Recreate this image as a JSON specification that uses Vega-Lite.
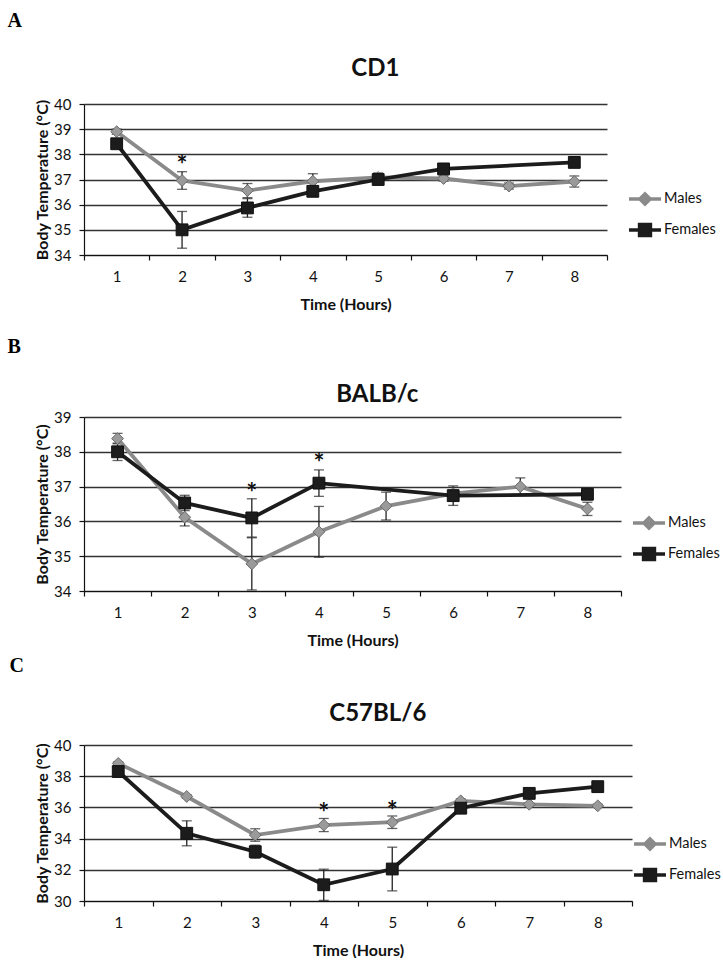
{
  "$schema": "https://vega.github.io/schema/vega-lite/v6.json",
  "padding": {"left": 7, "top": 11, "right": 0, "bottom": 0},
  "background": "white",
  "datasets": {
    "temps": [
      {"panel": "CD1", "sex": "Males", "hour": 1, "temp": 38.9, "err": 0.1},
      {"panel": "CD1", "sex": "Males", "hour": 2, "temp": 36.96, "err": 0.35},
      {"panel": "CD1", "sex": "Males", "hour": 3, "temp": 36.56, "err": 0.28},
      {"panel": "CD1", "sex": "Males", "hour": 4, "temp": 36.93, "err": 0.3},
      {"panel": "CD1", "sex": "Males", "hour": 5, "temp": 37.08, "err": 0.18},
      {"panel": "CD1", "sex": "Males", "hour": 6, "temp": 37.04, "err": 0.1},
      {"panel": "CD1", "sex": "Males", "hour": 7, "temp": 36.74, "err": 0.12},
      {"panel": "CD1", "sex": "Males", "hour": 8, "temp": 36.92, "err": 0.22},
      {"panel": "CD1", "sex": "Females", "hour": 1, "temp": 38.42, "err": 0.15},
      {"panel": "CD1", "sex": "Females", "hour": 2, "temp": 35.0, "err": 0.73},
      {"panel": "CD1", "sex": "Females", "hour": 3, "temp": 35.87, "err": 0.37},
      {"panel": "CD1", "sex": "Females", "hour": 4, "temp": 36.53, "err": 0.12},
      {"panel": "CD1", "sex": "Females", "hour": 5, "temp": 37.0, "err": 0.08},
      {"panel": "CD1", "sex": "Females", "hour": 6, "temp": 37.42, "err": 0.12},
      {"panel": "CD1", "sex": "Females", "hour": 8, "temp": 37.68, "err": 0.1},
      {"panel": "BALB/c", "sex": "Males", "hour": 1, "temp": 38.38, "err": 0.15},
      {"panel": "BALB/c", "sex": "Males", "hour": 2, "temp": 36.12, "err": 0.25},
      {"panel": "BALB/c", "sex": "Males", "hour": 3, "temp": 34.78, "err": 0.75},
      {"panel": "BALB/c", "sex": "Males", "hour": 4, "temp": 35.7, "err": 0.73},
      {"panel": "BALB/c", "sex": "Males", "hour": 5, "temp": 36.44, "err": 0.4},
      {"panel": "BALB/c", "sex": "Males", "hour": 6, "temp": 36.8, "err": 0.1},
      {"panel": "BALB/c", "sex": "Males", "hour": 7, "temp": 37.0, "err": 0.25},
      {"panel": "BALB/c", "sex": "Males", "hour": 8, "temp": 36.36, "err": 0.19},
      {"panel": "BALB/c", "sex": "Females", "hour": 1, "temp": 38.0, "err": 0.25},
      {"panel": "BALB/c", "sex": "Females", "hour": 2, "temp": 36.53, "err": 0.22},
      {"panel": "BALB/c", "sex": "Females", "hour": 3, "temp": 36.1, "err": 0.55},
      {"panel": "BALB/c", "sex": "Females", "hour": 4, "temp": 37.1, "err": 0.38},
      {"panel": "BALB/c", "sex": "Females", "hour": 6, "temp": 36.74, "err": 0.28},
      {"panel": "BALB/c", "sex": "Females", "hour": 8, "temp": 36.78, "err": 0.15},
      {"panel": "C57BL/6", "sex": "Males", "hour": 1, "temp": 38.82, "err": 0.1},
      {"panel": "C57BL/6", "sex": "Males", "hour": 2, "temp": 36.7, "err": 0.1},
      {"panel": "C57BL/6", "sex": "Males", "hour": 3, "temp": 34.23, "err": 0.4},
      {"panel": "C57BL/6", "sex": "Males", "hour": 4, "temp": 34.87, "err": 0.42},
      {"panel": "C57BL/6", "sex": "Males", "hour": 5, "temp": 35.05, "err": 0.4},
      {"panel": "C57BL/6", "sex": "Males", "hour": 6, "temp": 36.42, "err": 0.12},
      {"panel": "C57BL/6", "sex": "Males", "hour": 7, "temp": 36.2, "err": 0.1},
      {"panel": "C57BL/6", "sex": "Males", "hour": 8, "temp": 36.1, "err": 0.1},
      {"panel": "C57BL/6", "sex": "Females", "hour": 1, "temp": 38.3, "err": 0.2},
      {"panel": "C57BL/6", "sex": "Females", "hour": 2, "temp": 34.34, "err": 0.8},
      {"panel": "C57BL/6", "sex": "Females", "hour": 3, "temp": 33.16, "err": 0.42},
      {"panel": "C57BL/6", "sex": "Females", "hour": 4, "temp": 31.04, "err": 1.0},
      {"panel": "C57BL/6", "sex": "Females", "hour": 5, "temp": 32.05, "err": 1.4},
      {"panel": "C57BL/6", "sex": "Females", "hour": 6, "temp": 35.95, "err": 0.12},
      {"panel": "C57BL/6", "sex": "Females", "hour": 7, "temp": 36.9, "err": 0.12},
      {"panel": "C57BL/6", "sex": "Females", "hour": 8, "temp": 37.33, "err": 0.12}
    ],
    "stars": [
      {"panel": "CD1", "hour": 2, "temp": 37.78, "label": "*"},
      {"panel": "BALB/c", "hour": 3, "temp": 36.96, "label": "*"},
      {"panel": "BALB/c", "hour": 4, "temp": 37.82, "label": "*"},
      {"panel": "C57BL/6", "hour": 4, "temp": 35.95, "label": "*"},
      {"panel": "C57BL/6", "hour": 5, "temp": 36.1, "label": "*"}
    ]
  },
  "spacing": 25,
  "resolve": {"scale": {"color": "independent", "shape": "independent", "fill": "independent", "stroke": "independent"}, "legend": {"color": "independent"}},
  "vconcat": [
    {
      "title": {"text": "A", "anchor": "start", "font": "Liberation Serif", "fontSize": 20, "fontWeight": "bold", "color": "#000", "dx": -27, "offset": 26},
      "resolve": {"scale": {"color": "independent"}, "legend": {"color": "independent"}},
      "vconcat": [
        {
          "title": {"text": "CD1", "font": "Lato", "fontSize": 24, "fontWeight": "bold", "color": "#111", "anchor": "middle", "frame": "bounds", "offset": 16},
          "width": 523,
          "height": 151,
          "data": {"name": "temps"},
          "transform": [{"filter": "datum.panel === 'CD1'"}],
          "encoding": {
            "x": {"field": "hour", "type": "ordinal", "scale": {"paddingInner": 0, "paddingOuter": 0}, "axis": {"title": "Time (Hours)"}},
            "y": {"field": "temp", "type": "quantitative", "scale": {"domain": [34, 40], "nice": false, "zero": false}, "axis": {"values": [34, 35, 36, 37, 38, 39, 40], "title": "Body Temperature (°C)"}}
          },
          "layer": [
            {"mark": {"type": "errorbar", "ticks": {"size": 10}, "thickness": 1.3, "color": "#222"}, "encoding": {"yError": {"field": "err"}}},
            {"mark": {"type": "line", "strokeWidth": 3.8},
             "encoding": {"color": {"field": "sex", "type": "nominal", "scale": {"domain": ["Males", "Females"], "range": ["#8a8a8a", "#1c1c1c"]},
               "legend": {"orient": "none", "legendX": 543, "legendY": 77, "title": null,
                 "encode": {"symbols": {"update": {
                   "shape": {"signal": "datum.value === 'Males' ? 'M-1,0H1M0,-0.32L0.32,0L0,0.32L-0.32,0Z' : 'M-1,0H1M-0.34,-0.34H0.34V0.34H-0.34Z'"},
                   "fill": {"signal": "datum.value === 'Males' ? '#9a9a9a' : '#1c1c1c'"},
                   "stroke": {"signal": "datum.value === 'Males' ? '#8a8a8a' : '#1c1c1c'"},
                   "strokeWidth": {"value": 3.5}, "size": {"value": 1024}, "opacity": {"value": 1}}}}}}}},
            {"mark": {"type": "point", "filled": true, "opacity": 1, "size": 140, "strokeWidth": 1},
             "encoding": {
               "shape": {"field": "sex", "type": "nominal", "scale": {"domain": ["Males", "Females"], "range": ["diamond", "square"]}, "legend": null},
               "fill": {"field": "sex", "type": "nominal", "scale": {"domain": ["Males", "Females"], "range": ["#9a9a9a", "#1c1c1c"]}, "legend": null},
               "stroke": {"field": "sex", "type": "nominal", "scale": {"domain": ["Males", "Females"], "range": ["#6a6a6a", "#111111"]}, "legend": null}}},
            {"data": {"name": "stars"}, "transform": [{"filter": "datum.panel === 'CD1'"}],
             "mark": {"type": "text", "fontSize": 26, "fontWeight": "bold", "baseline": "middle", "dy": 6, "color": "#111"},
             "encoding": {"text": {"field": "label"}}}
          ]
        }
      ]
    },
    {
      "spacing": 8,
      "resolve": {"scale": {"color": "independent", "shape": "independent", "fill": "independent", "stroke": "independent"}, "legend": {"color": "independent"}},
      "vconcat": [
        {
          "title": {"text": "B", "anchor": "start", "font": "Liberation Serif", "fontSize": 20, "fontWeight": "bold", "color": "#000", "dx": -27, "offset": 26},
          "resolve": {"scale": {"color": "independent"}, "legend": {"color": "independent"}},
          "vconcat": [
            {
              "title": {"text": "BALB/c", "font": "Lato", "fontSize": 24, "fontWeight": "bold", "color": "#111", "anchor": "middle", "frame": "bounds", "offset": 3},
              "width": 537,
              "height": 174,
              "data": {"name": "temps"},
              "transform": [{"filter": "datum.panel === 'BALB/c'"}],
              "encoding": {
                "x": {"field": "hour", "type": "ordinal", "scale": {"paddingInner": 0, "paddingOuter": 0}, "axis": {"title": "Time (Hours)"}},
                "y": {"field": "temp", "type": "quantitative", "scale": {"domain": [34, 39], "nice": false, "zero": false}, "axis": {"values": [34, 35, 36, 37, 38, 39], "title": "Body Temperature (°C)"}}
              },
              "layer": [
                {"mark": {"type": "errorbar", "ticks": {"size": 10}, "thickness": 1.3, "color": "#222"}, "encoding": {"yError": {"field": "err"}}},
                {"mark": {"type": "line", "strokeWidth": 3.8},
                 "encoding": {"color": {"field": "sex", "type": "nominal", "scale": {"domain": ["Males", "Females"], "range": ["#8a8a8a", "#1c1c1c"]},
                   "legend": {"orient": "none", "legendX": 547, "legendY": 88, "title": null,
                     "encode": {"symbols": {"update": {
                       "shape": {"signal": "datum.value === 'Males' ? 'M-1,0H1M0,-0.32L0.32,0L0,0.32L-0.32,0Z' : 'M-1,0H1M-0.34,-0.34H0.34V0.34H-0.34Z'"},
                       "fill": {"signal": "datum.value === 'Males' ? '#9a9a9a' : '#1c1c1c'"},
                       "stroke": {"signal": "datum.value === 'Males' ? '#8a8a8a' : '#1c1c1c'"},
                       "strokeWidth": {"value": 3.5}, "size": {"value": 1024}, "opacity": {"value": 1}}}}}}}},
                {"mark": {"type": "point", "filled": true, "opacity": 1, "size": 140, "strokeWidth": 1},
                 "encoding": {
                   "shape": {"field": "sex", "type": "nominal", "scale": {"domain": ["Males", "Females"], "range": ["diamond", "square"]}, "legend": null},
                   "fill": {"field": "sex", "type": "nominal", "scale": {"domain": ["Males", "Females"], "range": ["#9a9a9a", "#1c1c1c"]}, "legend": null},
                   "stroke": {"field": "sex", "type": "nominal", "scale": {"domain": ["Males", "Females"], "range": ["#6a6a6a", "#111111"]}, "legend": null}}},
                {"data": {"name": "stars"}, "transform": [{"filter": "datum.panel === 'BALB/c'"}],
                 "mark": {"type": "text", "fontSize": 26, "fontWeight": "bold", "baseline": "middle", "dy": 6, "color": "#111"},
                 "encoding": {"text": {"field": "label"}}}
              ]
            }
          ]
        },
        {
          "title": {"text": "C", "anchor": "start", "font": "Liberation Serif", "fontSize": 20, "fontWeight": "bold", "color": "#000", "dx": -25, "offset": 26},
          "resolve": {"scale": {"color": "independent"}, "legend": {"color": "independent"}},
          "vconcat": [
            {
              "title": {"text": "C57BL/6", "font": "Lato", "fontSize": 24, "fontWeight": "bold", "color": "#111", "anchor": "middle", "frame": "bounds", "offset": 12},
              "width": 548,
              "height": 156,
              "data": {"name": "temps"},
              "transform": [{"filter": "datum.panel === 'C57BL/6'"}],
              "encoding": {
                "x": {"field": "hour", "type": "ordinal", "scale": {"paddingInner": 0, "paddingOuter": 0}, "axis": {"title": "Time (Hours)"}},
                "y": {"field": "temp", "type": "quantitative", "scale": {"domain": [30, 40], "nice": false, "zero": false}, "axis": {"values": [30, 32, 34, 36, 38, 40], "title": "Body Temperature (°C)"}}
              },
              "layer": [
                {"mark": {"type": "errorbar", "ticks": {"size": 10}, "thickness": 1.3, "color": "#222"}, "encoding": {"yError": {"field": "err"}}},
                {"mark": {"type": "line", "strokeWidth": 3.8},
                 "encoding": {"color": {"field": "sex", "type": "nominal", "scale": {"domain": ["Males", "Females"], "range": ["#8a8a8a", "#1c1c1c"]},
                   "legend": {"orient": "none", "legendX": 548, "legendY": 81, "title": null,
                     "encode": {"symbols": {"update": {
                       "shape": {"signal": "datum.value === 'Males' ? 'M-1,0H1M0,-0.32L0.32,0L0,0.32L-0.32,0Z' : 'M-1,0H1M-0.34,-0.34H0.34V0.34H-0.34Z'"},
                       "fill": {"signal": "datum.value === 'Males' ? '#9a9a9a' : '#1c1c1c'"},
                       "stroke": {"signal": "datum.value === 'Males' ? '#8a8a8a' : '#1c1c1c'"},
                       "strokeWidth": {"value": 3.5}, "size": {"value": 1024}, "opacity": {"value": 1}}}}}}}},
                {"mark": {"type": "point", "filled": true, "opacity": 1, "size": 140, "strokeWidth": 1},
                 "encoding": {
                   "shape": {"field": "sex", "type": "nominal", "scale": {"domain": ["Males", "Females"], "range": ["diamond", "square"]}, "legend": null},
                   "fill": {"field": "sex", "type": "nominal", "scale": {"domain": ["Males", "Females"], "range": ["#9a9a9a", "#1c1c1c"]}, "legend": null},
                   "stroke": {"field": "sex", "type": "nominal", "scale": {"domain": ["Males", "Females"], "range": ["#6a6a6a", "#111111"]}, "legend": null}}},
                {"data": {"name": "stars"}, "transform": [{"filter": "datum.panel === 'C57BL/6'"}],
                 "mark": {"type": "text", "fontSize": 26, "fontWeight": "bold", "baseline": "middle", "dy": 6, "color": "#111"},
                 "encoding": {"text": {"field": "label"}}}
              ]
            }
          ]
        }
      ]
    }
  ],
  "config": {
    "font": "Lato",
    "view": {"stroke": null},
    "axis": {"labelFont": "Lato", "labelFontSize": 15, "labelColor": "#111", "titleFont": "Lato", "titleColor": "#111", "titleFontWeight": "bold", "domainColor": "#111", "tickColor": "#111", "tickSize": 5, "domainWidth": 1.2, "tickWidth": 1.2},
    "axisX": {"labelAngle": 0, "tickBand": "extent", "grid": false, "labelPadding": 9, "titlePadding": 12, "titleFontSize": 16},
    "axisY": {"grid": true, "gridColor": "#333333", "gridWidth": 1.3, "labelPadding": 8, "titlePadding": 3, "titleFontSize": 16},
    "legend": {"padding": 0, "symbolSize": 1024, "labelFont": "Lato", "labelFontSize": 14.5, "labelColor": "#111", "labelOffset": 1, "rowPadding": 0},
    "title": {"font": "Lato", "color": "#111"}
  }
}
